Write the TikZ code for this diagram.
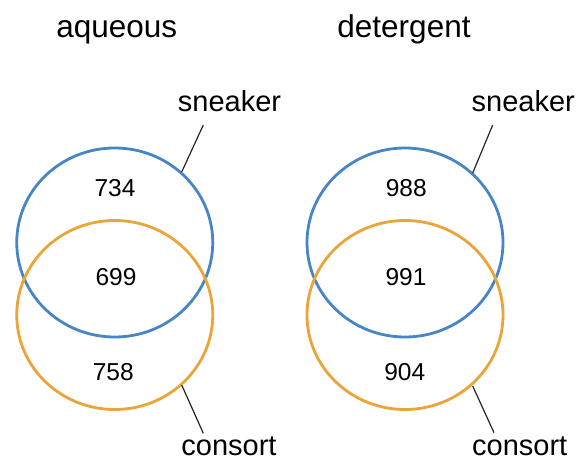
\documentclass[tikz,border=0pt]{standalone}
\usepackage{fontspec}
\setmainfont{Liberation Sans}
\definecolor{setblue}{RGB}{72,133,196}
\definecolor{setorange}{RGB}{234,164,56}
\tikzset{
  settitle/.style={anchor=base, inner sep=0pt, font=\fontsize{31.5}{32}\selectfont},
  setlabel/.style={anchor=base, inner sep=0pt, font=\fontsize{29}{30}\selectfont},
  count/.style={inner sep=0pt, font=\fontsize{24.5}{25}\selectfont},
  ring/.style={line width=2.8pt},
  leader/.style={line width=1.2pt, black!85},
}
\begin{document}
\begin{tikzpicture}[x=1pt, y=-1pt]
\useasboundingbox (0,0) rectangle (579,462);

% ---- left diagram: aqueous ----
\node[settitle] (tA) at (116.7,38) {aqueous};
\coordinate (cAs) at (114.75,242.5);
\coordinate (cAc) at (114.75,315);
\draw[ring, setblue]   (cAs) ellipse [x radius=98, y radius=94.5];
\draw[ring, setorange] (cAc) ellipse [x radius=98, y radius=94.5];
\node[count] (nA1) at (115,188.5) {734};
\node[count] (nA2) at (116,277) {699};
\node[count] (nA3) at (113.3,372.5) {758};
\node[setlabel] (lAs) at (229.5,111.5) {sneaker};
\node[setlabel] (lAc) at (229,456) {consort};
\coordinate (pAs1) at (203.3,125);
\coordinate (pAs2) at (181.7,172);
\coordinate (pAc1) at (181.7,385);
\coordinate (pAc2) at (203.3,433.3);
\draw[leader] (pAs1) -- (pAs2);
\draw[leader] (pAc1) -- (pAc2);

% ---- right diagram: detergent ----
\node[settitle] (tD) at (404,38) {detergent};
\coordinate (cDs) at (405,242.5);
\coordinate (cDc) at (405,315);
\draw[ring, setblue]   (cDs) ellipse [x radius=98, y radius=94.5];
\draw[ring, setorange] (cDc) ellipse [x radius=98, y radius=94.5];
\node[count] (nD1) at (406.3,188.5) {988};
\node[count] (nD2) at (406,277) {991};
\node[count] (nD3) at (404.7,372.5) {904};
\node[setlabel] (lDs) at (523.3,111.5) {sneaker};
\node[setlabel] (lDc) at (519.7,456) {consort};
\coordinate (pDs1) at (492.7,125);
\coordinate (pDs2) at (472.7,173);
\coordinate (pDc1) at (472.7,386);
\coordinate (pDc2) at (494,432.7);
\draw[leader] (pDs1) -- (pDs2);
\draw[leader] (pDc1) -- (pDc2);
\end{tikzpicture}
\end{document}
